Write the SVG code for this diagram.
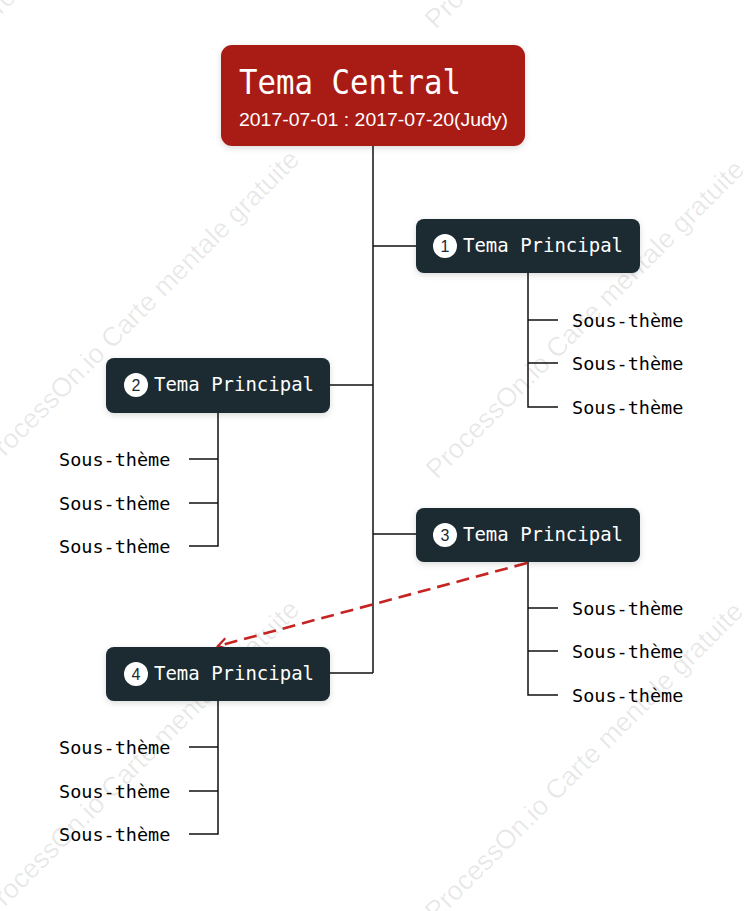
<svg xmlns="http://www.w3.org/2000/svg" width="747" height="911" viewBox="0 0 747 911">
  <defs>
    <filter id="sh" x="-10%" y="-20%" width="120%" height="150%">
      <feDropShadow dx="0" dy="2" stdDeviation="3" flood-color="#000" flood-opacity="0.15"/>
    </filter>
    <marker id="arr" viewBox="0 0 14 14" refX="12" refY="7" markerWidth="14" markerHeight="14" markerUnits="userSpaceOnUse" orient="auto">
      <polyline points="3,1.5 12,7 3,12.5" fill="none" stroke="#C62422" stroke-width="2.2"/>
    </marker>
    <style>
      .wm { font-family: "Liberation Sans", Arial, sans-serif; font-size: 27px; fill: #000; fill-opacity: 0.09; }
      .central { fill: #A91C19; }
      .main { fill: #1A2A32; }
      .title { font-family: "DejaVu Sans Mono", "Liberation Mono", monospace; font-size: 34px; fill: #fff; }
      .date { font-family: "Liberation Sans", Arial, sans-serif; font-size: 18.5px; fill: #fff; }
      .mt { font-family: "DejaVu Sans Mono", "Liberation Mono", monospace; font-size: 20px; fill: #fff; }
      .num { font-family: "Liberation Sans", Arial, sans-serif; font-size: 16px; fill: #1A2A32; text-anchor: middle; }
      .sub { font-family: "DejaVu Sans Mono", "Liberation Mono", monospace; font-size: 18.5px; fill: #000; }
      .ln { fill: none; stroke: #111; stroke-width: 1.5; }
      .dash { fill: none; stroke: #C62422; stroke-width: 2.6; stroke-dasharray: 13 7; }
    </style>
  </defs>
  <rect width="747" height="911" fill="#fff"/>

  <g id="watermarks">
    <text class="wm" transform="translate(-12,28) rotate(-45)">ProcessOn.io Carte mentale gratuite</text>
    <text class="wm" transform="translate(436,30) rotate(-45)">ProcessOn.io Carte mentale gratuite</text>
    <text class="wm" transform="translate(-8,470) rotate(-45)">ProcessOn.io Carte mentale gratuite</text>
    <text class="wm" transform="translate(437,480) rotate(-45)">ProcessOn.io Carte mentale gratuite</text>
    <text class="wm" transform="translate(-8,920) rotate(-45)">ProcessOn.io Carte mentale gratuite</text>
    <text class="wm" transform="translate(436,922) rotate(-45)">ProcessOn.io Carte mentale gratuite</text>
  </g>

  <g id="connectors">
    <path class="ln" d="M373,146 V673"/>
    <path class="ln" d="M373,246 H416"/>
    <path class="ln" d="M330,385 H373"/>
    <path class="ln" d="M373,534 H416"/>
    <path class="ln" d="M330,673 H373"/>
    <path class="ln" d="M528,273 V407 H558 M528,320 H558 M528,363 H558"/>
    <path class="ln" d="M218,413 V546 H189 M218,459 H189 M218,503 H189"/>
    <path class="ln" d="M528,562 V695 H558 M528,608 H558 M528,651 H558"/>
    <path class="ln" d="M218,701 V834 H189 M218,747 H189 M218,791 H189"/>
    <path class="dash" d="M527,563 L218,646" marker-end="url(#arr)"/>
  </g>

  <g id="central">
    <rect class="central" x="221" y="45" width="304" height="101" rx="11" filter="url(#sh)"/>
    <text class="title" x="239" y="94" textLength="222" lengthAdjust="spacingAndGlyphs">Tema Central</text>
    <text class="date" x="239" y="126" textLength="269" lengthAdjust="spacingAndGlyphs">2017-07-01 : 2017-07-20(Judy)</text>
  </g>

  <g id="main1">
    <rect class="main" x="416" y="219" width="224" height="54" rx="8" filter="url(#sh)"/>
    <circle cx="445" cy="246" r="12" fill="#fff"/>
    <text class="num" x="445" y="252">1</text>
    <text class="mt" x="463" y="252" textLength="160" lengthAdjust="spacingAndGlyphs">Tema Principal</text>
  </g>
  <g id="main2">
    <rect class="main" x="106" y="358" width="224" height="55" rx="8" filter="url(#sh)"/>
    <circle cx="136" cy="385" r="12" fill="#fff"/>
    <text class="num" x="136" y="391">2</text>
    <text class="mt" x="154" y="391" textLength="160" lengthAdjust="spacingAndGlyphs">Tema Principal</text>
  </g>
  <g id="main3">
    <rect class="main" x="416" y="508" width="224" height="54" rx="8" filter="url(#sh)"/>
    <circle cx="445" cy="535" r="12" fill="#fff"/>
    <text class="num" x="445" y="541">3</text>
    <text class="mt" x="463" y="541" textLength="160" lengthAdjust="spacingAndGlyphs">Tema Principal</text>
  </g>
  <g id="main4">
    <rect class="main" x="106" y="647" width="224" height="54" rx="8" filter="url(#sh)"/>
    <circle cx="136" cy="674" r="12" fill="#fff"/>
    <text class="num" x="136" y="680">4</text>
    <text class="mt" x="154" y="680" textLength="160" lengthAdjust="spacingAndGlyphs">Tema Principal</text>
  </g>

  <g id="sub1a"><text class="sub" x="572" y="327">Sous-thème</text></g>
  <g id="sub1b"><text class="sub" x="572" y="370">Sous-thème</text></g>
  <g id="sub1c"><text class="sub" x="572" y="414">Sous-thème</text></g>

  <g id="sub2a"><text class="sub" x="59" y="466">Sous-thème</text></g>
  <g id="sub2b"><text class="sub" x="59" y="510">Sous-thème</text></g>
  <g id="sub2c"><text class="sub" x="59" y="553">Sous-thème</text></g>

  <g id="sub3a"><text class="sub" x="572" y="615">Sous-thème</text></g>
  <g id="sub3b"><text class="sub" x="572" y="658">Sous-thème</text></g>
  <g id="sub3c"><text class="sub" x="572" y="702">Sous-thème</text></g>

  <g id="sub4a"><text class="sub" x="59" y="754">Sous-thème</text></g>
  <g id="sub4b"><text class="sub" x="59" y="798">Sous-thème</text></g>
  <g id="sub4c"><text class="sub" x="59" y="841">Sous-thème</text></g>
</svg>
